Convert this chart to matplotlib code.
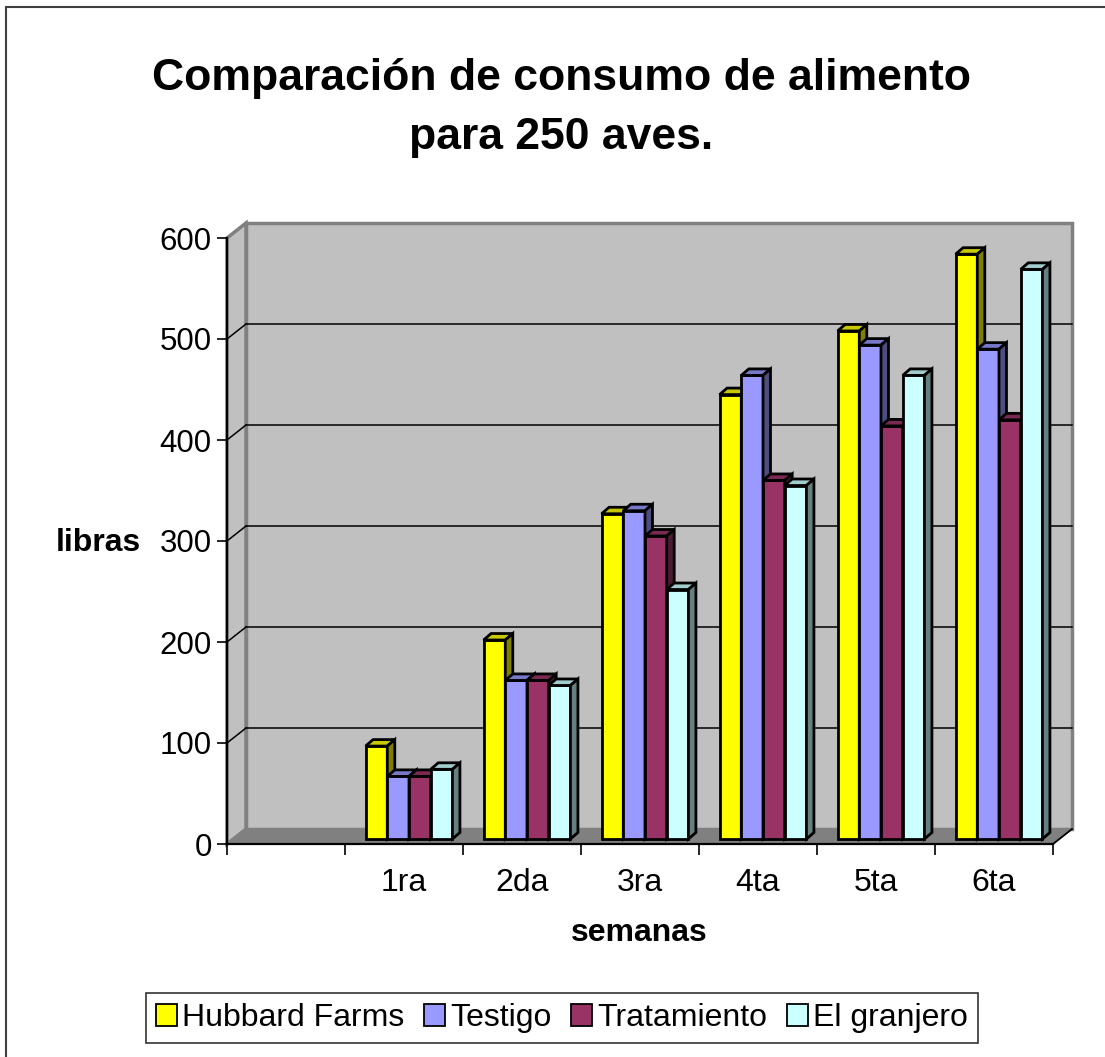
import matplotlib
matplotlib.use("Agg")
import matplotlib.pyplot as plt
from matplotlib.patches import Polygon, Patch, Rectangle

# ---- data -------------------------------------------------------------
weeks = ["1ra", "2da", "3ra", "4ta", "5ta", "6ta"]
series_names = ["Hubbard Farms", "Testigo", "Tratamiento", "El granjero"]
hubbard = [92, 197, 322, 440, 503, 579]
testigo = [62, 157, 325, 459, 489, 485]
tratamiento = [62, 157, 300, 355, 409, 415]
granjero = [69, 152, 247, 350, 459, 564]
y_ticks = [0, 100, 200, 300, 400, 500, 600]

front_colors = ["#FFFF00", "#9999FF", "#993366", "#CCFFFF"]
top_colors = ["#C8C800", "#7878C8", "#7A2952", "#A3CCCC"]
side_colors = ["#808000", "#4D4D80", "#4D1A33", "#668080"]

# ---- figure -----------------------------------------------------------
W, H = 1105, 1057
fig = plt.figure(figsize=(W / 100, H / 100), dpi=100)
fig.patch.set_facecolor("white")

plt.rcParams["font.family"] = ["Liberation Sans", "DejaVu Sans"]


def fx(px):
    return px / W


def fy(py):
    return 1 - py / H


# outer chart frame
fig.add_artist(Rectangle((fx(6), fy(H + 20)), fx(W + 20), fy(7) - fy(H + 20),
                         transform=fig.transFigure, fill=False,
                         edgecolor="#404040", linewidth=1.5))

# plotting area: x in category slots (first slot left empty), y in pounds
x0, x1 = 227, 1053
y0, y1 = 844, 238
ax = fig.add_axes([fx(x0), fy(y0), fx(x1) - fx(x0), fy(y1) - fy(y0)])
n_slots = len(weeks) + 1
ax.set_xlim(0, n_slots)
ax.set_ylim(0, 600)
ax.set_facecolor("none")

px_x = (x1 - x0) / n_slots          # pixels per slot
px_y = (y0 - y1) / 600.0            # pixels per pound

# depth offsets (oblique projection)
wdx, wdy = 19 / px_x, 15 / px_y     # wall depth
fdx, fdy = 5 / px_x, 5 / px_y       # bar front face offset
bdx, bdy = 7.5 / px_x, 6.5 / px_y   # bar depth

wall_gray = "#C0C0C0"
edge_gray = "#808080"

# back wall
ax.add_patch(Rectangle((wdx, wdy), n_slots, 600, facecolor=wall_gray,
                       edgecolor=edge_gray, linewidth=2.5, zorder=0.5,
                       clip_on=False))
# left wall
ax.add_patch(Polygon([(0, 0), (wdx, wdy), (wdx, 600 + wdy), (0, 600)],
                     closed=True, facecolor=wall_gray, edgecolor=edge_gray,
                     linewidth=2.5, zorder=0.6, clip_on=False))
# floor
ax.add_patch(Polygon([(0, 0), (n_slots, 0), (n_slots + wdx, wdy), (wdx, wdy)],
                     closed=True, facecolor=edge_gray, edgecolor=edge_gray,
                     linewidth=1, zorder=0.7, clip_on=False))

# gridlines on back and left walls
for v in y_ticks[1:-1]:
    ax.plot([wdx, n_slots + wdx], [v + wdy, v + wdy], color="black",
            linewidth=1.1, zorder=0.8, clip_on=False)
    ax.plot([0, wdx], [v, v + wdy], color="black", linewidth=1.1,
            zorder=0.8, clip_on=False)

# right end of the floor edge
ax.plot([n_slots, n_slots + wdx], [0, wdy], color="black", linewidth=1.3,
        zorder=2.6, clip_on=False)

# bars: front face, top face and side face, painted left to right
all_series = [hubbard, testigo, tratamiento, granjero]
bw = 0.184
pad = (1 - len(all_series) * bw) / 2
k = 0
for ci in range(len(weeks)):
    slot = ci + 1
    for si, vals in enumerate(all_series):
        v = vals[ci]
        x = slot + pad + fdx + si * bw
        z = 3 + k * 0.01
        k += 1
        ax.bar(x, v, width=bw, bottom=fdy, align="edge",
               color=front_colors[si], edgecolor="black", linewidth=2.0,
               zorder=z, clip_on=False)
        top = fdy + v
        ax.add_patch(Polygon([(x, top), (x + bw, top),
                              (x + bw + bdx, top + bdy), (x + bdx, top + bdy)],
                             closed=True, facecolor=top_colors[si],
                             edgecolor="black", linewidth=2.0, zorder=z,
                             clip_on=False))
        ax.add_patch(Polygon([(x + bw, fdy), (x + bw + bdx, fdy + bdy),
                              (x + bw + bdx, top + bdy), (x + bw, top)],
                             closed=True, facecolor=side_colors[si],
                             edgecolor="black", linewidth=2.0, zorder=z,
                             clip_on=False))

# axes lines and ticks
for s in ("top", "right"):
    ax.spines[s].set_visible(False)
for s in ("left", "bottom"):
    ax.spines[s].set_linewidth(1.6)
    ax.spines[s].set_color("black")
    ax.spines[s].set_zorder(2.6)

ax.set_yticks(y_ticks)
ax.set_yticklabels([str(t) for t in y_ticks], fontsize=22.5)
ax.tick_params(axis="y", direction="out", length=7, width=1.2, pad=4)

ax.set_xticks(range(n_slots + 1))
ax.set_xticklabels([""] * (n_slots + 1))
ax.tick_params(axis="x", which="major", direction="out", length=8, width=1.2)
ax.set_xticks([i + 0.5 for i in range(n_slots)], minor=True)
ax.set_xticklabels([""] + weeks, minor=True, fontsize=23)
ax.tick_params(axis="x", which="minor", length=0, pad=17)

# titles and axis names
fig.text(fx(561), fy(90), "Comparación de consumo de alimento",
         ha="center", va="baseline", fontsize=32, fontweight="bold")
fig.text(fx(561), fy(149), "para 250 aves.",
         ha="center", va="baseline", fontsize=32, fontweight="bold")
fig.text(fx(98), fy(543), "libras", ha="center", va="center",
         fontsize=23, fontweight="bold")
fig.text(fx(639), fy(933), "semanas", ha="center", va="center",
         fontsize=23, fontweight="bold")

# legend
handles = [Patch(facecolor=c, edgecolor="black", linewidth=1.3)
           for c in front_colors]
leg = fig.legend(handles, series_names, loc="center",
                 bbox_to_anchor=(fx(562), fy(1018)), ncol=4,
                 prop={"family": "Liberation Sans", "size": 23},
                 frameon=True, fancybox=False, edgecolor="black",
                 handlelength=0.66, handleheight=0.66, handletextpad=0.16,
                 columnspacing=0.62, borderpad=0.3, borderaxespad=0)
leg.get_frame().set_linewidth(1.2)

fig.savefig("out.png", dpi=100)
